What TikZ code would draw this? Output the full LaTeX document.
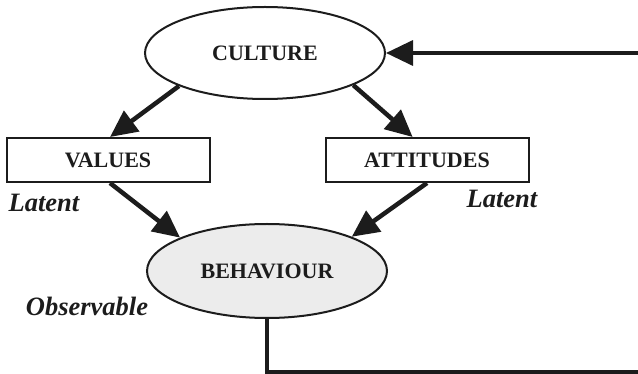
\documentclass[tikz,border=0pt]{standalone}
\usepackage{fontspec}
\setmainfont{Liberation Serif}
\usetikzlibrary{arrows.meta,shapes.geometric}
\definecolor{ink}{HTML}{1C1C1C}
\definecolor{behfill}{HTML}{ECECEC}
\tikzset{
  ellnode/.style={ellipse, draw=ink, line width=2pt, minimum width=240pt, minimum height=92pt, inner sep=0pt, font=\fontsize{22}{25}\selectfont\bfseries, text=ink},
  boxnode/.style={rectangle, draw=ink, line width=2pt, minimum width=203pt, minimum height=44pt, inner sep=0pt, font=\fontsize{22}{25}\selectfont\bfseries, text=ink},
  lbl/.style={font=\fontsize{26.5}{30}\selectfont\bfseries\itshape, text=ink, inner sep=0pt},
  bigarrow/.style={draw=ink, line width=4.5pt, -{Triangle[length=27pt,width=25pt]}},
  fbarrow/.style={draw=ink, line width=3.5pt, -{Triangle[length=27pt,width=25pt]}}
}
\begin{document}
\begin{tikzpicture}[x=1pt,y=-1pt]
\useasboundingbox (0,0) rectangle (638,374);
\clip (0,0) rectangle (638,374);
\node[ellnode] (culture) at (265,53) {CULTURE};
\node[boxnode] (values) at (108,160) {VALUES};
\node[boxnode] (attitudes) at (427,160) {ATTITUDES};
\node[ellnode, fill=behfill, minimum height=94pt] (behaviour) at (267,271) {BEHAVIOUR};
\node[lbl] (lat1) at (44,203) {Latent};
\node[lbl] (lat2) at (502,199) {Latent};
\node[lbl] (obs) at (87,306) {Observable};
\draw[bigarrow] (culture.201) -- (values.85);
\draw[bigarrow] (culture.-20) -- (attitudes.122);
\draw[bigarrow] (values.275) -- (behaviour.159);
\draw[bigarrow] (attitudes.270) -- (behaviour.22);
\coordinate (fbcorner) at (660,372);
\draw[fbarrow] (behaviour.south) |- (fbcorner) |- (culture.east);
\end{tikzpicture}
\end{document}
